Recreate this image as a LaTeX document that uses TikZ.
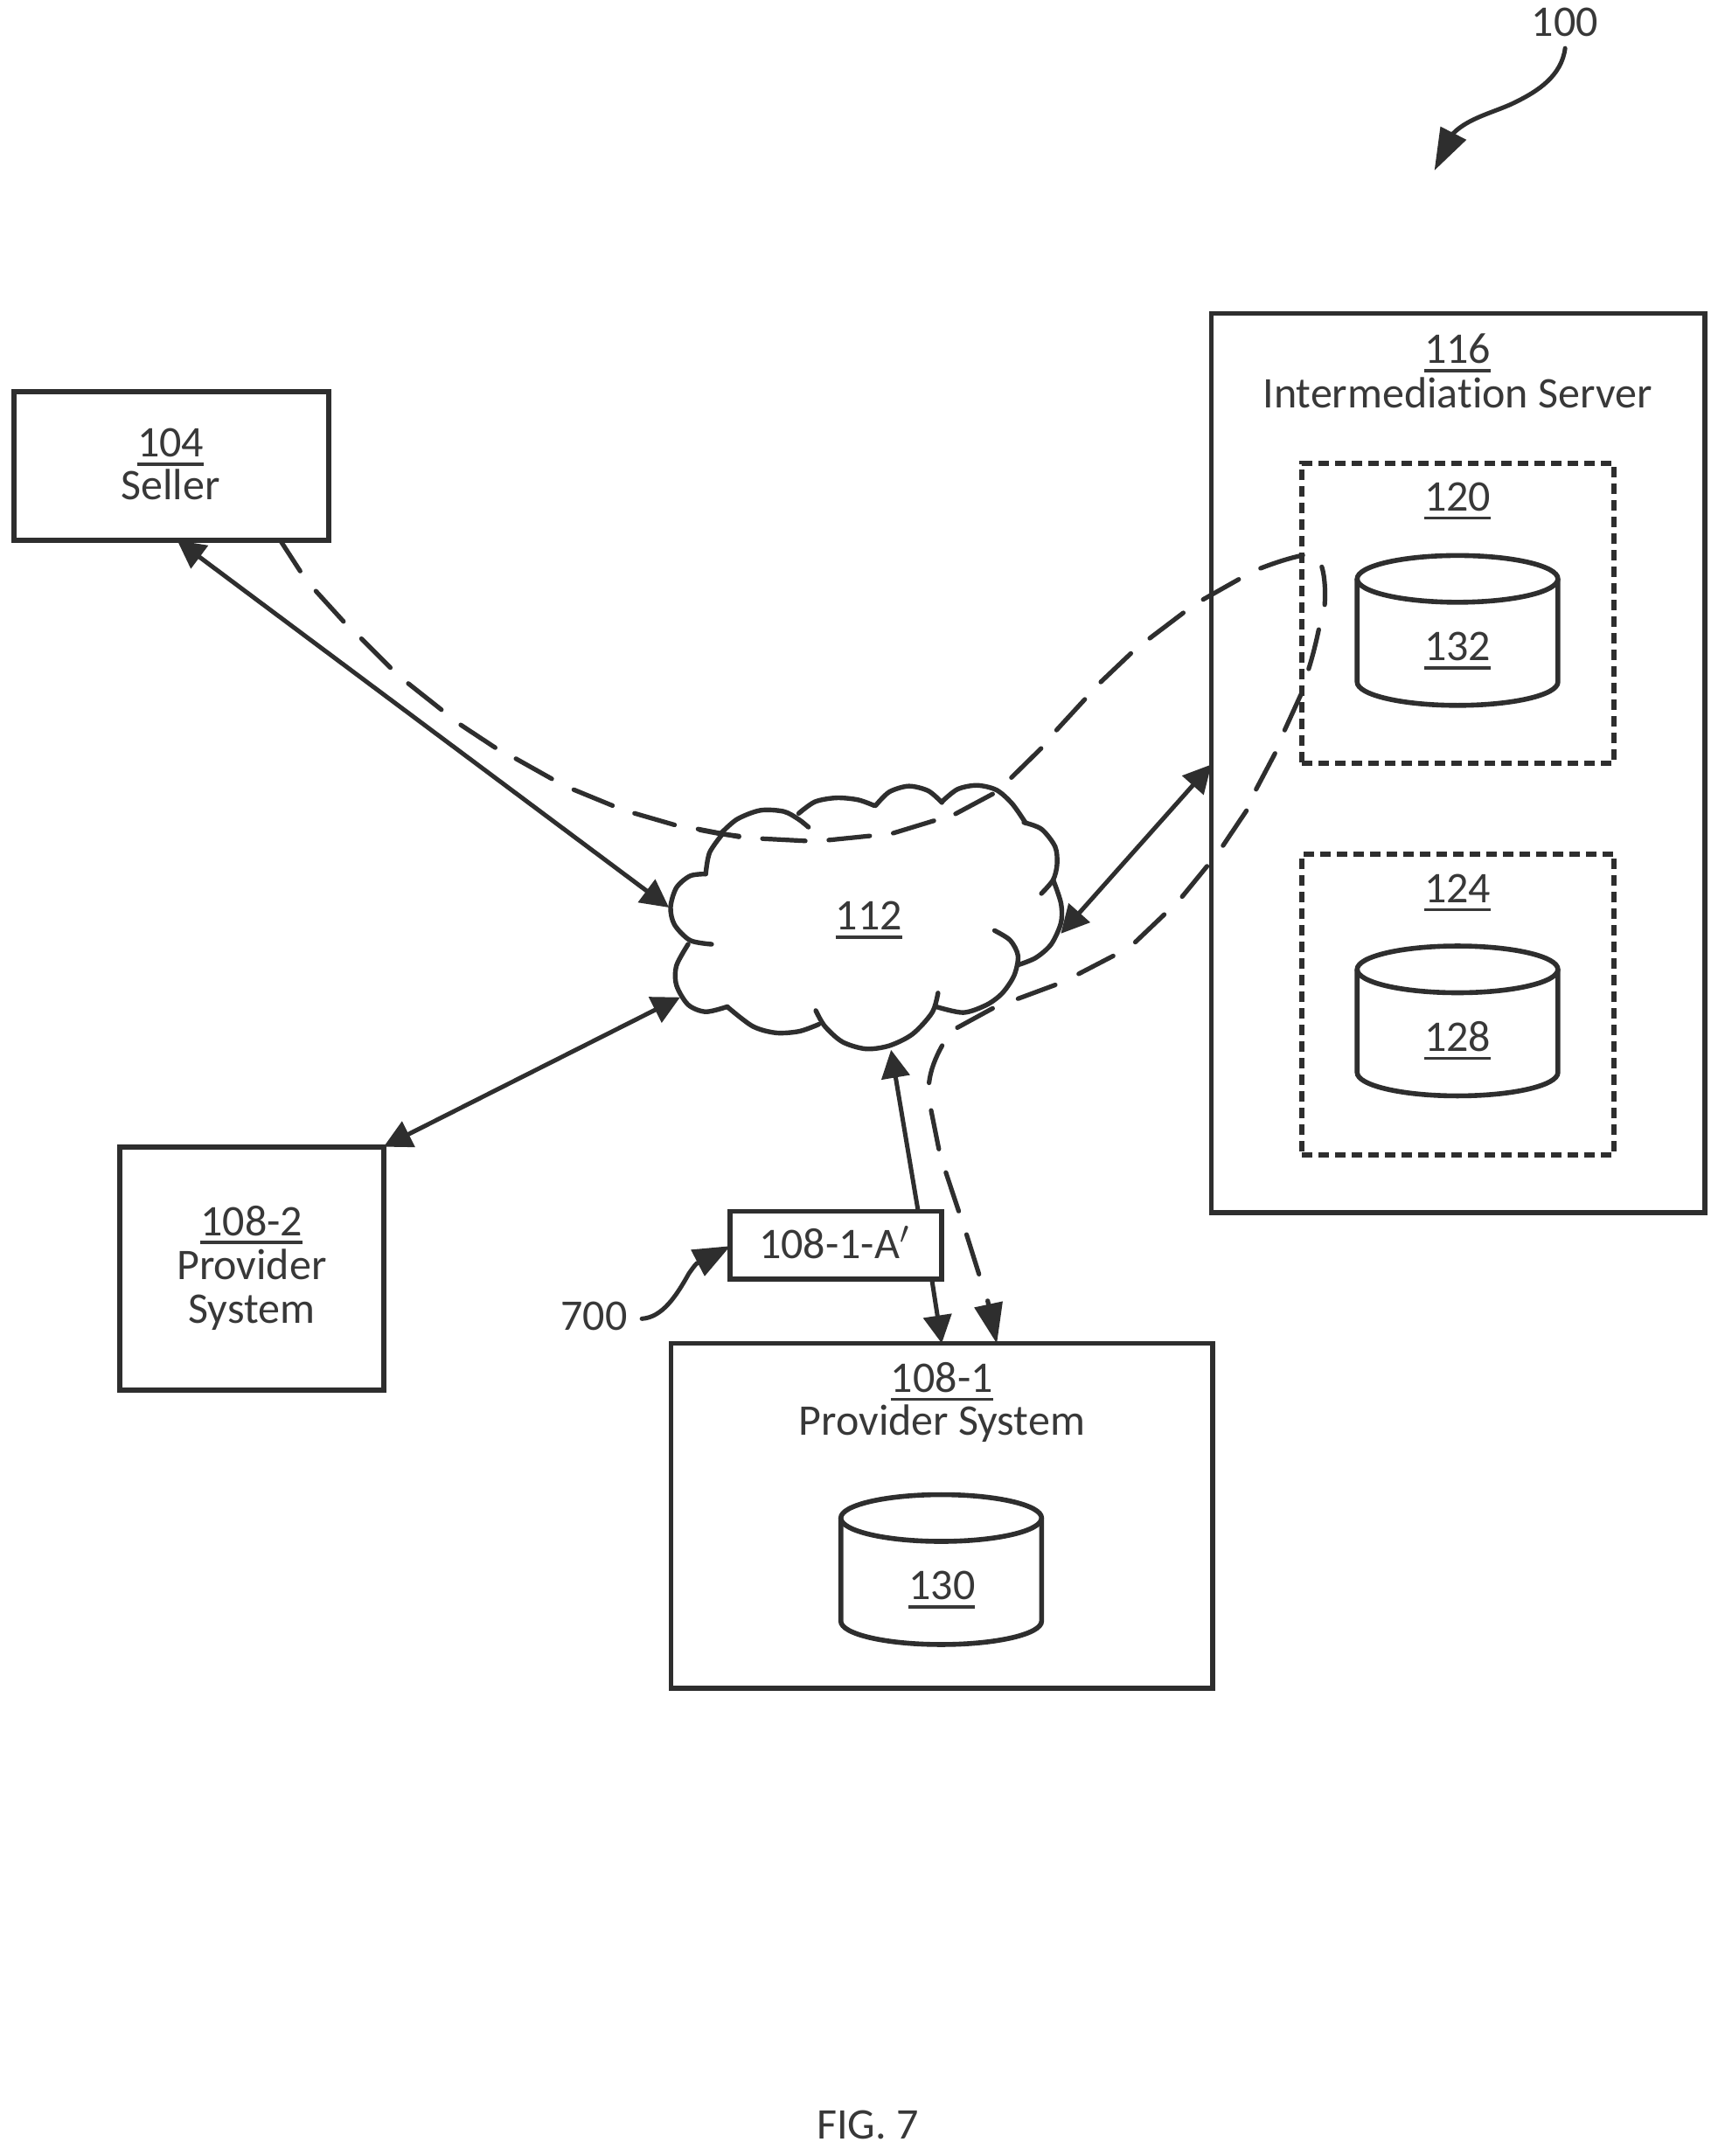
\documentclass[tikz,border=0pt]{standalone}
\usepackage{fontspec}
\setmainfont[Ligatures=NoCommon]{Carlito}
\usetikzlibrary{arrows.meta,fit,calc}
\definecolor{ink}{gray}{0.18}
\definecolor{txt}{gray}{0.22}
\newcommand{\refnum}[1]{\setbox0=\hbox{#1}\rlap{\rule[-2.5pt]{\wd0}{0.9pt}}\box0}
\tikzset{
  x=0.39318pt,y=-0.39318pt,
  every node/.style={text=txt,font=\fontsize{12.5}{13.5}\selectfont,inner sep=0pt,outer sep=0pt},
  tx/.style={anchor=base,yshift=-4.13pt},
  solidbox/.style={draw=ink,line width=1.45pt,inner sep=0pt,outer sep=0pt,line join=miter},
  dotbox/.style={draw=ink,line width=1.45pt,inner sep=0pt,outer sep=0pt,dash pattern=on 3pt off 1.75pt},
  cloudline/.style={draw=ink,line width=1.35pt,line cap=round},
  cylline/.style={draw=ink,line width=1.4pt},
  headtip/.tip={Triangle[length=8pt,width=8pt]},
  link/.style={draw=ink,line width=1.25pt,{headtip}-{headtip}},
  oneway/.style={draw=ink,line width=1.25pt,-{headtip}},
  dashlink/.style={draw=ink,line width=1.3pt,line cap=round,-{Triangle[length=11.5pt,width=8pt]}},
  callout/.style={draw=ink,line width=1.25pt,line cap=round,-{Triangle[length=12pt,width=8pt]}},
  callouts/.style={draw=ink,line width=1.25pt,line cap=round,-{Triangle[length=10.5pt,width=8.2pt]}},
}
\newcommand{\cylshape}[3]{% centre x, top y, name suffix
  \draw[cylline] (#1,#2+17) ellipse [x radius=73,y radius=17];
  \draw[cylline] (#1-73,#2+17) -- (#1-73,#2+92)
     arc [start angle=180,end angle=0,x radius=73,y radius=17] -- (#1+73,#2+17);
}
\begin{document}
\begin{tikzpicture}
\path[fill=white] (0,0) rectangle (1254,1568);
\useasboundingbox (0,0) rectangle (1254,1568);

% boxes
\node[solidbox,fit={(10,285) (239,393)}] (seller) {};
\node[solidbox,fit={(87,834) (279,1011)}] (provtwo) {};
\node[solidbox,fit={(881,228) (1240,882)}] (server) {};
\node[dotbox,fit={(947,337) (1174,555)}] (dbone) {};
\node[dotbox,fit={(947,621) (1174,840)}] (dbtwo) {};
\node[solidbox,fit={(531,881) (685,930)}] (adapter) {};
\node[solidbox,fit={(488,977) (882,1228)}] (provone) {};

% texts
\node[tx] (tseller) at (124,322) {\refnum{104}};
\node[tx] (tsellerb) at (124,353) {Seller};
\node[tx] (tpa) at (183,888) {\refnum{108-2}};
\node[tx] (tpb) at (183,920) {Provider};
\node[tx] (tpc) at (183,952) {System};
\node[tx] (tsa) at (1060,254) {\refnum{116}};
\node[tx] (tsb) at (1060,286) {Intermediation Server};
\node[tx] (t120) at (1060,361) {\refnum{120}};
\node[tx] (t132) at (1060,470) {\refnum{132}};
\node[tx] (t124) at (1060,646) {\refnum{124}};
\node[tx] (t128) at (1060,754) {\refnum{128}};
\node[tx] (tadapter) at (607,905) {108-1-A$'$};
\node[tx] (toa) at (685,1002) {\refnum{108-1}};
\node[tx] (tob) at (685,1033) {Provider System};
\node[tx] (t130) at (685,1153) {\refnum{130}};
\node[tx] (cloud) at (632,666) {\refnum{112}};
\node[tx] (l100) at (1138,16) {100};
\node[tx] (l700) at (432,957) {700};
\node[tx] (figlabel) at (631,1545) {FIG. 7};

% cylinders
\cylshape{1060}{404}{a}
\cylshape{1060}{688}{b}
\cylshape{684.5}{1087}{c}

% cloud
\begin{scope}[shift={(445.1,540.5)},scale=0.2839]
\draw[cloudline] plot[smooth] coordinates {(240,335) (250,280) (285,230)};
\draw[cloudline] plot[smooth] coordinates {(225,222) (278,232) (325,238)};
\draw[cloudline] plot[smooth] coordinates {(278,232) (320,195) (380,172) (440,175) (478,195) (503,215)};
\draw[cloudline] plot[smooth] coordinates {(478,180) (520,150) (575,140) (630,145) (672,160)};
\draw[cloudline] plot[smooth] coordinates {(675,160) (710,125) (760,110) (810,122) (845,152)};
\draw[cloudline] plot[smooth] coordinates {(845,150) (885,118) (935,108) (985,120) (1025,155) (1060,205)};
\draw[cloudline] plot[smooth] coordinates {(1055,203) (1100,220) (1135,265) (1140,310) (1130,350) (1100,385)};
\draw[cloudline] plot[smooth] coordinates {(1130,350) (1150,410) (1150,460) (1125,515) (1085,550) (1040,568)};
\draw[cloudline] plot[smooth] coordinates {(980,480) (1020,505) (1040,545) (1030,595) (1000,640) (960,670) (900,690) (830,675)};
\draw[cloudline] plot[smooth] coordinates {(835,640) (820,690) (770,745) (710,775) (650,783) (590,765) (545,725) (522,685)};
\draw[cloudline] plot[smooth] coordinates {(530,720) (480,738) (420,742) (360,725) (295,675)};
\draw[cloudline] plot[smooth] coordinates {(295,675) (240,688) (195,670) (165,620) (165,570) (195,515)};
\draw[cloudline] plot[smooth] coordinates {(255,515) (200,505) (160,465) (150,420) (165,370) (200,340) (240,335)};
\end{scope}

% contact points on the cloud outline
\coordinate (cloudL) at (486.5,660);
\coordinate (cloudLL) at (494.6,725.3);
\coordinate (cloudR) at (771.5,679);
\coordinate (cloudB) at (648,763.5);

% solid connectors
\draw[link] ($(seller.south west)!0.519!(seller.south east)$) -- (cloudL);
\draw[link] (cloudLL) -- (provtwo.north east);
\draw[link] (cloudR) -- ($(server.north west)!0.5015!(server.south west)$);
\draw[oneway] ($(adapter.north west)!0.888!(adapter.north east)$) -- (cloudB);
\draw[oneway] ($(adapter.south west)!0.952!(adapter.south east)$) -- ($(provone.north west)!0.4997!(provone.north east)$);

\begin{scope}[scale=1.0032]
% dashed connector, seller to server to provider system
\draw[dashlink]
  ($(seller.south west)!0.8465!(seller.south east)$) -- (217.6,414)
  (229,428.5) -- (249,450.5)
  (262,463) -- (283,484)
  (296,495.5) -- (320,514.5)
  (334,525.5) -- (359,542)
  (374,550) -- (400,564.6)
  (416,572.5) -- (444,584)
  (460,589.6) -- (489,598)
  (506,601) -- (535.7,606.7)
  (552.7,608) -- (583.8,609.6)
  (600.8,609) -- (630.5,606)
  (647.5,604) -- (677,595)
  (692.7,590) -- (719.6,575.6)
  (733.2,563.7) -- (754.7,542.6)
  (765.9,529.3) -- (786.4,507)
  (798,494.4) -- (819.8,473.7)
  (833.5,462.7) -- (857.8,444.3)
  (872.2,434.6) -- (898,420)
  (913.8,412) .. controls (924,408) and (935,404.5) .. (944.5,402.5)
  (958.2,410.9) .. controls (960.5,418) and (961,430) .. (960.3,438.4)
  (956,456.4) .. controls (954,466) and (951.5,476) .. (948.7,484.9)
  (943.4,502.8) -- (931.3,529.3)
  (924.3,546.2) -- (910.6,572.2)
  (903.6,587.7) -- (886.6,613)
  (875,628) -- (857,650)
  (844,663) -- (823,683)
  (807,693) -- (782,706)
  (765,714) -- (738,724)
  (719.6,731) -- (694,745)
  (683,758) .. controls (678,767) and (674.5,776) .. (673.5,785)
  (675,805) -- (680.6,833)
  (685.7,850) -- (695,878)
  (700.7,895) -- (709.7,923.7)
  (716,943) -- ($(provone.north west)!0.601!(provone.north east)$);

% reference callouts
\coordinate (target100) at (1039.6,123.6);
\draw[callout] (1134.6,35) .. controls (1132,55) and (1115,66) .. (1098.7,74)
  .. controls (1085,81) and (1065,85) .. (1053.6,96.6) -- (target100);
\draw[callouts] (465.3,956) .. controls (480,955) and (490,940) .. (499.3,923.4)
  .. controls (501,921) and (503,918) .. (505,916)
  -- ($(adapter.north west)!0.51!(adapter.south west)$);
\end{scope}
\end{tikzpicture}
\end{document}
